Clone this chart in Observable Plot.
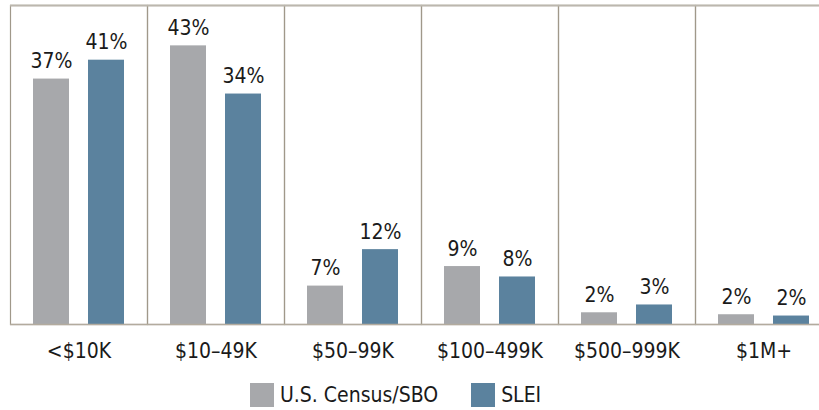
<!DOCTYPE html>
<html>
<head>
<meta charset="utf-8">
<script src="https://cdn.jsdelivr.net/npm/d3@7"></script>
<script src="https://cdn.jsdelivr.net/npm/@observablehq/plot@0.6"></script>
<style>
  html, body { margin: 0; padding: 0; background: #fff; overflow: hidden; }
  #chart svg { display: block; }
  #legend { padding-left: 250px; margin-top: 13px; }
  #legend, #legend * { font-family: "DejaVu Sans Condensed", "Liberation Sans", Arial, sans-serif !important; font-size: 21px !important; color: #1a1a1a; }
  #legend > div { min-height: 24px !important; margin: 0 !important; display: flex !important; align-items: center; }
  #legend span { margin-right: 33px !important; display: inline-flex !important; align-items: center; }
  #legend span > svg { margin-right: 6px !important; }
</style>
</head>
<body>
<div id="chart"></div>
<div id="legend"></div>
<script>
// Revenue categories
const categories = ["<$10K", "$10–49K", "$50–99K", "$100–499K", "$500–999K", "$1M+"];
const series = ["U.S. Census/SBO", "SLEI"];
const colors = ["#a7a8ab", "#5b829e"];
// Bar heights as drawn (percent)
const censusValues = [37.7, 42.8, 5.9, 8.9, 1.8, 1.5];
const sleiValues   = [40.6, 35.4, 11.5, 7.3, 3.0, 1.3];
// Printed labels
const censusLabels = ["37%", "43%", "7%", "9%", "2%", "2%"];
const sleiLabels   = ["41%", "34%", "12%", "8%", "3%", "2%"];
const yMax = 49;

const data = [];
categories.forEach((c, i) => {
  data.push({cat: c, series: series[0], value: censusValues[i], label: censusLabels[i]});
  data.push({cat: c, series: series[1], value: sleiValues[i], label: sleiLabels[i]});
});

const font = "DejaVu Sans Condensed, Liberation Sans, Arial, sans-serif";

const chart = Plot.plot({
  width: 842,
  height: 370,
  marginLeft: 10,
  marginRight: 10,
  marginTop: 5,
  marginBottom: 46,
  style: {
    fontFamily: font,
    fontSize: "21px",
    color: "#1a1a1a",
    background: "#fff",
    maxWidth: "none",
    overflow: "visible"
  },
  fx: {domain: categories, padding: 0, axis: "bottom", label: null, tickSize: 0, tickPadding: 19},
  x: {domain: series, axis: null, paddingInner: 0.345, paddingOuter: 0.415},
  y: {domain: [0, yMax], axis: null},
  color: {domain: series, range: colors},
  marks: [
    Plot.frame({stroke: "#a0988a", strokeWidth: 1.2}),
    Plot.ruleY([yMax], {stroke: "#bcb7ae", strokeWidth: 2}),
    Plot.barY(data, {fx: "cat", x: "series", y: "value", fill: "series"}),
    Plot.ruleY([0], {stroke: "#b3ab9e", strokeWidth: 1.5}),
    Plot.text(data, {fx: "cat", x: "series", y: "value", text: "label", dy: -11, lineAnchor: "bottom", fontSize: 21, fill: "#1a1a1a"})
  ]
});
document.getElementById("chart").appendChild(chart);
document.getElementById("legend").appendChild(chart.legend("color", {swatchSize: 24, className: "lg"}));
</script>
</body>
</html>
